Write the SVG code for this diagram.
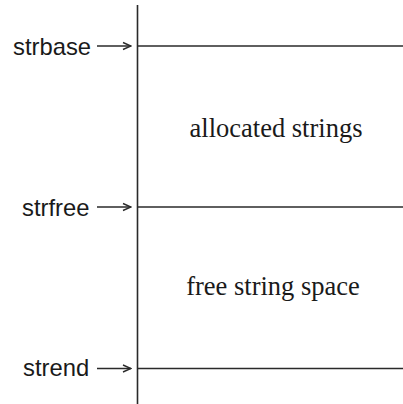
<svg xmlns="http://www.w3.org/2000/svg" width="403" height="404" viewBox="0 0 403 404">
<style>
.ln{stroke:#2a2a2a;stroke-width:1.6;fill:none}
.ar{stroke:#2a2a2a;stroke-width:1.4;fill:none}
.lbl{font-family:"Liberation Sans",Arial,sans-serif;font-size:23.8px;fill:#1a1a1a}
.reg{font-family:"Liberation Serif","Times New Roman",serif;font-size:26.5px;fill:#1a1a1a;text-anchor:middle}
</style>
<defs>
<marker id="ah" markerWidth="10" markerHeight="10" refX="9" refY="5" orient="auto" markerUnits="userSpaceOnUse">
<path d="M1,1.5 L9,5 L1,8.5" stroke="#2a2a2a" stroke-width="1.4" fill="none"/>
</marker>
</defs>
<g id="memory">
<line class="ln" x1="137.5" y1="5" x2="137.5" y2="404"/>
<line class="ln" x1="137.5" y1="46" x2="403" y2="46"/>
<line class="ln" x1="137.5" y1="207" x2="403" y2="207"/>
<line class="ln" x1="137.5" y1="368.5" x2="403" y2="368.5"/>
</g>
<g id="allocated"><text class="reg" x="276" y="137">allocated strings</text></g>
<g id="free"><text class="reg" x="273" y="295">free string space</text></g>
<g id="strbase"><text class="lbl" x="13" y="55">strbase</text></g>
<g id="strfree"><text class="lbl" x="22" y="216">strfree</text></g>
<g id="strend"><text class="lbl" x="23" y="376">strend</text></g>
<g id="connectors">
<line class="ar" x1="97" y1="46" x2="131" y2="46" marker-end="url(#ah)"/>
<line class="ar" x1="97" y1="207" x2="131" y2="207" marker-end="url(#ah)"/>
<line class="ar" x1="97" y1="368.5" x2="131" y2="368.5" marker-end="url(#ah)"/>
</g>
</svg>
